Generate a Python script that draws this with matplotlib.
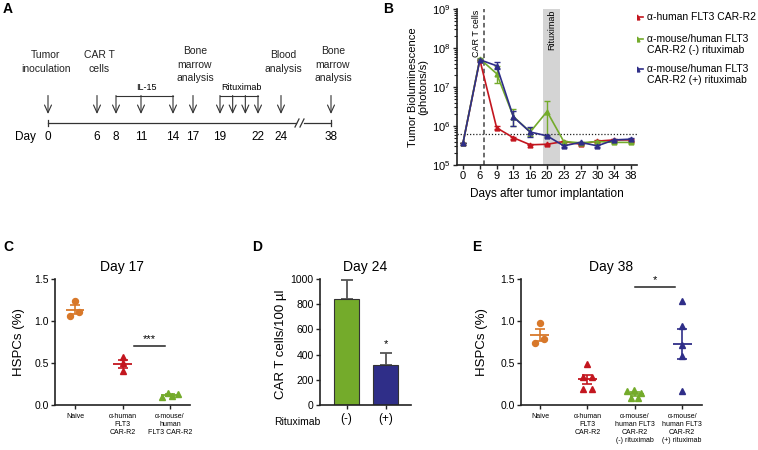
import numpy as np
import matplotlib
matplotlib.use("Agg")
import matplotlib.pyplot as plt

plt.rcParams['font.family'] = ['Liberation Sans', 'DejaVu Sans']

# ---------------- data ----------------
# panel A timeline
tl_days = [0, 6, 8, 11, 14, 17, 19, 22, 24, 38]
arrow_days = [0, 6, 8, 11, 14, 17, 19, 20, 21, 22, 24, 38]
il15_days = [8, 14]
ritux_days = [19, 22]
events = [(0, "Tumor\ninoculation"), (6, "CAR T\ncells"), (17, "Bone\nmarrow\nanalysis"),
          (24, "Blood\nanalysis"), (38, "Bone\nmarrow\nanalysis")]

# panel B
days_b = ['0', '6', '9', '13', '16', '20', '23', '27', '30', '34', '38']
red_b = [3.7e5, 5.0e7, 9.0e5, 5.0e5, 3.3e5, 3.4e5, 4.0e5, 3.4e5, 4.1e5, 4.4e5, 4.4e5]
red_lo = [3.7e5, 5.0e7, 8.2e5, 4.7e5, 3.2e5, 3.3e5, 3.9e5, 3.3e5, 3.9e5, 4.2e5, 4.2e5]
red_hi = [3.7e5, 5.0e7, 1.0e6, 5.3e5, 3.4e5, 3.5e5, 4.1e5, 3.5e5, 4.3e5, 4.6e5, 4.6e5]
green_b = [3.7e5, 5.3e7, 2.2e7, 1.75e6, 7.0e5, 2.35e6, 4.0e5, 3.7e5, 4.0e5, 3.8e5, 3.8e5]
green_lo = [3.7e5, 5.0e7, 1.25e7, 1.0e6, 5.5e5, 5.5e5, 3.8e5, 3.5e5, 3.8e5, 3.6e5, 3.6e5]
green_hi = [3.7e5, 5.6e7, 3.5e7, 2.8e6, 9.0e5, 4.4e6, 4.2e5, 3.9e5, 4.2e5, 4.0e5, 4.0e5]
blue_b = [3.7e5, 5.0e7, 3.5e7, 1.7e6, 7.0e5, 5.6e5, 3.1e5, 3.8e5, 3.1e5, 4.4e5, 4.6e5]
blue_lo = [3.7e5, 4.7e7, 2.9e7, 1.0e6, 5.1e5, 5.3e5, 2.9e5, 3.6e5, 2.9e5, 4.2e5, 4.3e5]
blue_hi = [3.7e5, 5.3e7, 4.3e7, 2.4e6, 9.4e5, 5.9e5, 3.3e5, 4.0e5, 3.3e5, 4.6e5, 4.9e5]
threshold_b = 6.3e5
legend_b = [["α-human FLT3 CAR-R2"],
            ["α-mouse/human FLT3", "CAR-R2 (-) rituximab"],
            ["α-mouse/human FLT3", "CAR-R2 (+) rituximab"]]

# panel C (day 17)
cats_c = ["Naive", "α-human\nFLT3\nCAR-R2", "α-mouse/\nhuman\nFLT3 CAR-R2"]
c_naive = [1.24, 1.11, 1.06]
c_human = [0.57, 0.50, 0.40]
c_mouse = [0.10, 0.14, 0.11, 0.13]

# panel D (day 24)
cats_d = ["(-)", "(+)"]
d_vals = [838, 318]
d_err = [157, 92]

# panel E (day 38)
cats_e = ["Naive", "α-human\nFLT3\nCAR-R2", "α-mouse/\nhuman FLT3\nCAR-R2\n(-) rituximab",
          "α-mouse/\nhuman FLT3\nCAR-R2\n(+) rituximab"]
e_naive = [0.98, 0.79, 0.74]
e_human = [0.49, 0.33, 0.33, 0.19, 0.19]
e_mouse_neg = [0.17, 0.18, 0.14, 0.08, 0.08]
e_mouse_pos = [1.24, 0.94, 0.71, 0.58, 0.17]

# ---------------- style ----------------
orange = '#D8782A'
red = '#C3161F'
green = '#74AB2B'
blue = '#2F2E88'
dark = '#222222'

W, H = 758, 450


def rect(x0, y0, x1, y1):
    return [x0 / W, 1 - y1 / H, (x1 - x0) / W, (y1 - y0) / H]


def style_axes(ax):
    for s in ['top', 'right']:
        ax.spines[s].set_visible(False)
    for s in ['left', 'bottom']:
        ax.spines[s].set_linewidth(1.2)
        ax.spines[s].set_color(dark)
    ax.tick_params(direction='out', length=3, width=1, color=dark, labelsize=7.5, pad=1.5)


fig = plt.figure(figsize=(7.58, 4.5), dpi=100)
over = fig.add_axes([0, 0, 1, 1])
over.set_xlim(0, W)
over.set_ylim(H, 0)
over.axis('off')

# panel letters
for lab, (px, py) in zip("ABCDE", [(8, 9), (388, 9), (8, 247), (257, 247), (477, 247)]):
    over.text(px, py, lab, fontsize=10, fontweight='bold', ha='center', va='center')

# ---------------- A: timeline ----------------
anchor_days = [0, 6, 8, 11, 14, 17, 19, 22, 24, 38]
anchor_px = [48, 97, 116, 141, 173, 193, 220, 258, 281, 331]


def tpos(d):
    return np.interp(d, anchor_days, anchor_px)


y_line = 123
over.plot([tpos(0), 296], [y_line, y_line], color='#333', lw=0.9)
over.plot([304, tpos(38)], [y_line, y_line], color='#333', lw=0.9)
for bx in [297, 302]:
    over.plot([bx - 2, bx + 2], [y_line + 4, y_line - 4], color='#333', lw=0.9)
for d in [0, 38]:
    over.plot([tpos(d)] * 2, [y_line - 3, y_line + 3], color='#333', lw=0.9)
over.text(25, 137, "Day", fontsize=8.5, ha='center', va='center')
for d in tl_days:
    over.text(tpos(d), 137, str(d), fontsize=8.5, ha='center', va='center')
for d in arrow_days:
    over.annotate('', xy=(tpos(d), 114), xytext=(tpos(d), 95.5),
                  arrowprops=dict(arrowstyle='->,head_length=0.55,head_width=0.25',
                                  lw=0.8, color='#333', shrinkA=0, shrinkB=0))
for (d0, d1), lab in [(il15_days, "IL-15"), (ritux_days, "Rituximab")]:
    over.plot([tpos(d0), tpos(d1)], [96, 96], color='#333', lw=0.8)
    over.text((tpos(d0) + tpos(d1)) / 2 + 2, 87, lab, fontsize=6.5, ha='center', va='center')
for d, lab in events:
    lines = lab.split('\n')
    top = 55 if len(lines) == 2 else 51
    xc = tpos(d) + (2 if d != 0 else -2)
    for i, ln in enumerate(lines):
        over.text(xc, top + i * 13.5, ln, fontsize=7.5, ha='center', va='center', color='#222')

# ---------------- B: bioluminescence ----------------
axb = fig.add_axes(rect(457, 9, 637, 165))
xb = np.arange(len(days_b))
axb.axvspan(4.75, 5.75, color='#d4d4d4', lw=0, zorder=0)
axb.axvline(1.25, ls=(0, (3, 2)), color='#444', lw=1.1, zorder=1)
axb.axhline(threshold_b, ls=(0, (1, 1.5)), color='#222', lw=0.9, zorder=1)
for vals, lo, hi, c in [(red_b, red_lo, red_hi, red), (green_b, green_lo, green_hi, green),
                        (blue_b, blue_lo, blue_hi, blue)]:
    v = np.array(vals)
    axb.errorbar(xb, v, yerr=[v - np.array(lo), np.array(hi) - v], color=c, marker='^',
                 ms=3.5, lw=1.2, elinewidth=1, capsize=2, zorder=3)
axb.set_yscale('log')
axb.set_ylim(1e5, 1e9)
axb.set_xlim(-0.36, 10.36)
axb.set_xticks(xb)
axb.set_xticklabels(days_b)
style_axes(axb)
axb.tick_params(labelsize=8)
axb.tick_params(which='minor', length=2, width=0.8, color=dark)
axb.text(0.78, 9.5e8, "CAR T cells", rotation=90, fontsize=6.5, ha='center', va='top')
axb.text(5.28, 9.5e8, "Rituximab", rotation=90, fontsize=6.5, ha='center', va='top')
axb.set_ylabel("Tumor Bioluminescence\n(photons/s)", fontsize=8, linespacing=1.05)
axb.yaxis.set_label_coords(-0.16, 0.5)
axb.set_xlabel("Days after tumor implantation", fontsize=8.5)
axb.xaxis.set_label_coords(0.5, -0.15)

# legend
for (lines, c, y) in zip(legend_b, [red, green, blue], [17, 39, 69]):
    over.plot([630, 643], [y, y], color=c, lw=1.2)
    over.plot([636.5], [y], marker='^', ms=3.5, color=c)
    for i, ln in enumerate(lines):
        over.text(647, y + i * 11, ln, fontsize=7.5, ha='left', va='center')


# ---------------- dot plot helper ----------------
def dot_group(ax, xc, vals, offsets, color, marker, mean_half=0.19):
    vals = np.array(vals)
    ax.plot(xc + np.array(offsets), vals, ls='none', marker=marker, ms=4.3,
            color=color, mec=color, zorder=3)
    m = vals.mean()
    sem = vals.std(ddof=1) / np.sqrt(len(vals))
    ax.hlines(m, xc - mean_half, xc + mean_half, color=color, lw=1.3, zorder=4)
    ax.errorbar([xc], [m], yerr=[sem], color=color, lw=1.2, capsize=3.3,
                capthick=1.2, zorder=4)


# ---------------- C ----------------
axc = fig.add_axes(rect(55, 279, 190, 405))
dot_group(axc, 0, c_naive, [0.0, 0.09, -0.105], orange, 'o')
dot_group(axc, 1, c_human, [0, 0, 0], red, '^')
dot_group(axc, 2, c_mouse, [-0.16, -0.05, 0.05, 0.16], green, '^')
axc.plot([1.25, 1.9], [0.70, 0.70], color=dark, lw=1.1)
axc.text(1.575, 0.73, "***", fontsize=8, ha='center', va='bottom')
axc.set_xlim(-0.42, 2.42)
axc.set_ylim(0, 1.5)
axc.set_yticks([0, 0.5, 1.0, 1.5])
axc.set_yticklabels(['0.0', '0.5', '1.0', '1.5'])
axc.set_xticks(range(3))
axc.set_xticklabels(cats_c, fontsize=5, linespacing=1.15, va='top')
style_axes(axc)
axc.tick_params(axis='x', labelsize=5, pad=3)
axc.set_title("Day 17", fontsize=10, pad=6)
axc.set_ylabel("HSPCs (%)", fontsize=9.5)
axc.yaxis.set_label_coords(-0.22, 0.5)

# ---------------- D ----------------
axd = fig.add_axes(rect(320, 279, 411, 405))
xd = np.arange(len(cats_d))
axd.bar(xd, d_vals, width=0.64, color=[green, blue], edgecolor='#333', lw=0.8, zorder=2)
axd.errorbar(xd, d_vals, yerr=[[0, 0], d_err], fmt='none', ecolor='#555', elinewidth=1.3,
             capsize=4.5, capthick=1.3, zorder=1)
axd.text(1, d_vals[1] + d_err[1] + 35, "*", fontsize=8, ha='center', va='bottom')
axd.set_xlim(-0.68, 1.65)
axd.set_ylim(0, 1000)
axd.set_yticks(range(0, 1001, 200))
axd.set_xticks(xd)
axd.set_xticklabels(cats_d)
style_axes(axd)
axd.tick_params(axis='x', labelsize=8.5, pad=3)
axd.set_title("Day 24", fontsize=10, pad=6)
axd.set_ylabel("CAR T cells/100 µl", fontsize=9.5)
axd.yaxis.set_label_coords(-0.36, 0.48)
over.text(297, 422, "Rituximab", fontsize=7.5, ha='center', va='center')

# ---------------- E ----------------
axe = fig.add_axes(rect(521, 279, 702, 405))
dot_group(axe, 0, e_naive, [0.0, 0.09, -0.10], orange, 'o', 0.2)
dot_group(axe, 1, e_human, [0, -0.09, 0.09, -0.09, 0.09], red, '^', 0.2)
dot_group(axe, 2, e_mouse_neg, [-0.155, -0.015, 0.14, -0.085, 0.07], green, '^', 0.2)
dot_group(axe, 3, e_mouse_pos, [0, 0, 0, 0, 0], blue, '^', 0.2)
axe.plot([2.0, 2.86], [1.40, 1.40], color=dark, lw=1.1)
axe.text(2.43, 1.43, "*", fontsize=8, ha='center', va='bottom')
axe.set_xlim(-0.40, 3.42)
axe.set_ylim(0, 1.5)
axe.set_yticks([0, 0.5, 1.0, 1.5])
axe.set_yticklabels(['0.0', '0.5', '1.0', '1.5'])
axe.set_xticks(range(4))
axe.set_xticklabels(cats_e, fontsize=5, linespacing=1.15, va='top')
style_axes(axe)
axe.tick_params(axis='x', labelsize=5, pad=3)
axe.set_title("Day 38", fontsize=10, pad=6)
axe.set_ylabel("HSPCs (%)", fontsize=9.5)
axe.yaxis.set_label_coords(-0.185, 0.5)

fig.savefig("out.png", dpi=100)
